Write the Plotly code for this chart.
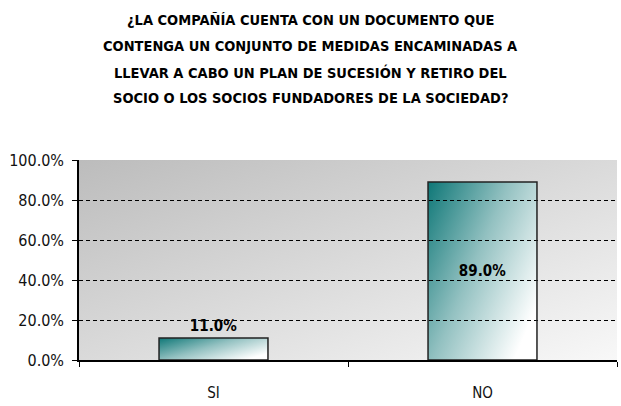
import base64
import plotly.graph_objects as go

titulo = ["¿LA COMPAÑÍA CUENTA CON UN DOCUMENTO QUE",
          "CONTENGA UN CONJUNTO DE MEDIDAS ENCAMINADAS A",
          "LLEVAR A CABO UN PLAN DE SUCESIÓN Y RETIRO DEL",
          "SOCIO O LOS SOCIOS FUNDADORES DE LA SOCIEDAD?"]
respuestas = ["SI", "NO"]
porcentajes = [0.11, 0.89]
posicion_texto = ["outside", "inside"]
ticks_y = [0, 0.2, 0.4, 0.6, 0.8, 1.0]

narrow = "DejaVu Sans Condensed, Liberation Sans Narrow, sans-serif"
ancho_barra = 0.405


def degradado(c0, c1, extra="", x2=1, y2=1):
    svg = ('<svg xmlns="http://www.w3.org/2000/svg" width="100" height="100" preserveAspectRatio="none">'
           f'<defs><linearGradient id="g" x1="0" y1="0" x2="{x2}" y2="{y2}">'
           f'<stop offset="0" stop-color="{c0}"/>{extra}<stop offset="1" stop-color="{c1}"/>'
           '</linearGradient></defs><rect width="100" height="100" fill="url(#g)"/></svg>')
    return "data:image/svg+xml;base64," + base64.b64encode(svg.encode()).decode()


fondo = degradado("#bcbcbc", "#f8f8f8")
relleno = degradado("#0e7777", "#ffffff", '<stop offset="0.5" stop-color="#93c1c1"/>', x2=1, y2=0.7)

fig = go.Figure()
fig.add_trace(go.Bar(
    x=respuestas,
    y=porcentajes,
    width=ancho_barra,
    text=[f"{v*100:.1f}%" for v in porcentajes],
    textposition=posicion_texto,
    insidetextanchor="middle",
    textfont=dict(family=narrow, size=15, color="black", weight="bold"),
    marker=dict(color="rgba(0,0,0,0)", line=dict(color="#222222", width=1.5)),
    cliponaxis=False,
    hoverinfo="x+y",
))

# relleno degradado de cada barra, colocado con los ejes del grafico
imagenes = [dict(source=fondo, xref="paper", yref="paper", x=0, y=1,
                 sizex=1, sizey=1, sizing="stretch", layer="below")]
for i, v in enumerate(porcentajes):
    imagenes.append(dict(source=relleno, xref="x", yref="y", x=i - ancho_barra / 2, y=v,
                         sizex=ancho_barra, sizey=v, sizing="stretch", layer="below"))

anotaciones = []
for i, linea in enumerate(titulo):
    anotaciones.append(dict(text=linea, xref="paper", yref="paper", x=0.431, y=1 + (160 - 20 - 26 * i) / 200,
                            xanchor="center", yanchor="middle", showarrow=False,
                            font=dict(family=narrow, size=14.5, color="black", weight="bold")))

fig.update_layout(
    width=621, height=406,
    margin=dict(l=79, r=4, t=160, b=46, autoexpand=False),
    paper_bgcolor="white",
    plot_bgcolor="#dcdcdc",
    showlegend=False,
    uniformtext=dict(minsize=8, mode="show"),
    images=imagenes,
    annotations=anotaciones,
)

fig.update_yaxes(
    range=[0, 1.0], tickvals=ticks_y, tickformat=".1%",
    showgrid=True, gridcolor="black", griddash="4px,3px", gridwidth=1.2,
    showline=True, linecolor="black", linewidth=1.5,
    ticks="outside", ticklen=5, tickcolor="black",
    zeroline=False, automargin=False,
    tickfont=dict(family=narrow, size=16, color="#111111"),
    ticklabelstandoff=5,
)
fig.update_xaxes(
    showline=True, linecolor="black", linewidth=1.5,
    ticks="outside", tickson="boundaries", ticklen=5, tickcolor="black",
    showgrid=False, automargin=False,
    tickfont=dict(family=narrow, size=15, color="#111111"),
    ticklabelstandoff=18,
)

fig.write_html("out.html", config={"displayModeBar": False},
               post_script="document.body.style.margin='0';")
